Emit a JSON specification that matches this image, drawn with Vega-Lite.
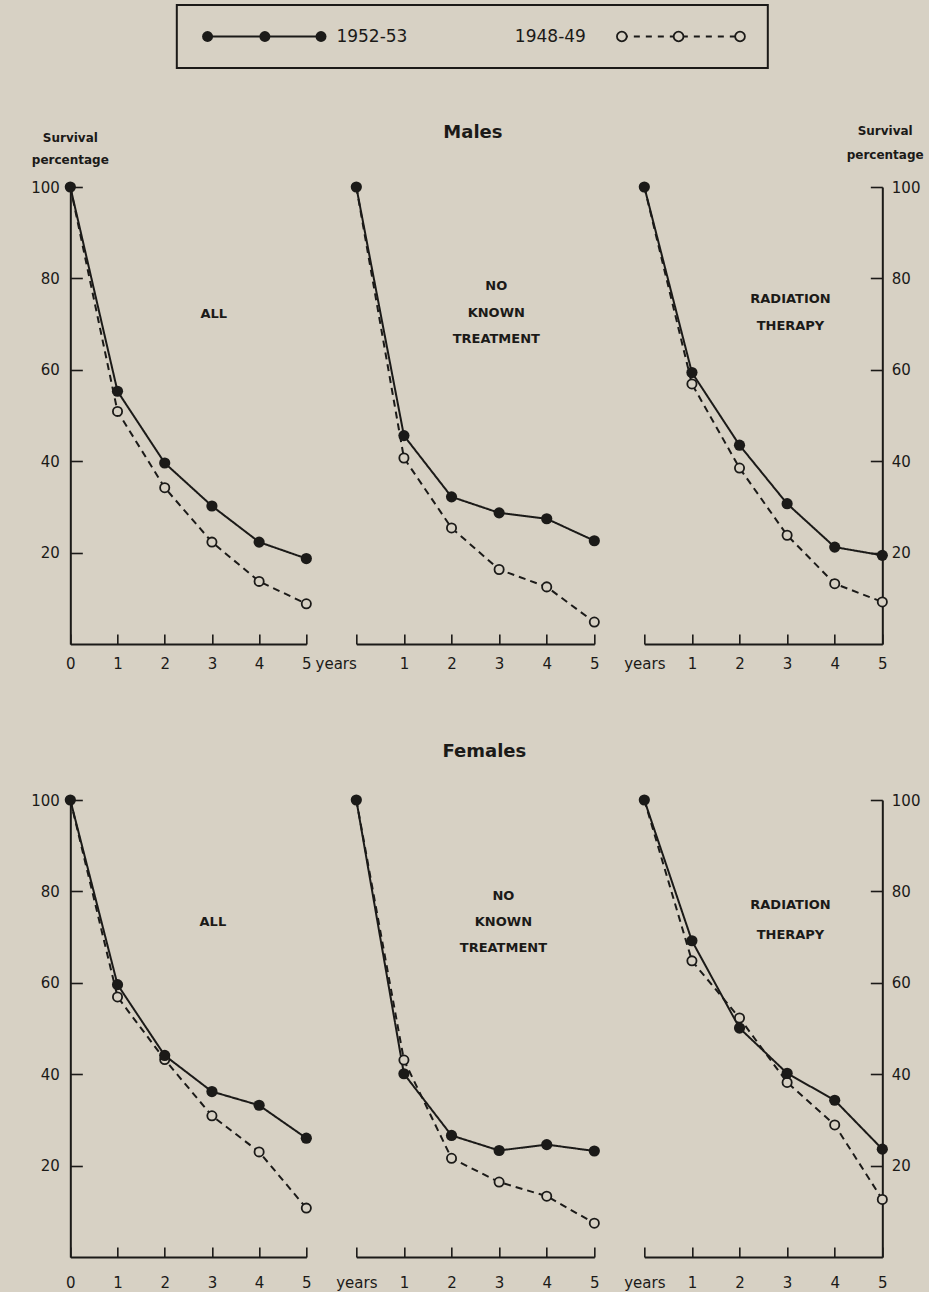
{
  "$schema": "https://vega.github.io/schema/vega-lite/v6.json",
  "background": "#d7d1c4",
  "padding": {"left": 30, "top": 4, "right": 5, "bottom": 2},
  "config": {
    "view": {"stroke": null},
    "font": "DejaVu Sans",
    "axis": {
      "domainColor": "#1b1a18", "domainWidth": 2, "tickColor": "#1b1a18", "tickWidth": 1.6,
      "labelColor": "#1b1a18", "labelFont": "DejaVu Sans", "labelFontSize": 15,
      "labelFlush": false, "labelOverlap": false, "labelBound": false, "grid": false, "title": null
    }
  },
  "datasets": {
    "surv": [
      {"sex":"Males","group":"ALL","period":"1952-53","year":0,"pct":100},
      {"sex":"Males","group":"ALL","period":"1952-53","year":1,"pct":55.3},
      {"sex":"Males","group":"ALL","period":"1952-53","year":2,"pct":39.6},
      {"sex":"Males","group":"ALL","period":"1952-53","year":3,"pct":30.2},
      {"sex":"Males","group":"ALL","period":"1952-53","year":4,"pct":22.3},
      {"sex":"Males","group":"ALL","period":"1952-53","year":5,"pct":18.7},
      {"sex":"Males","group":"ALL","period":"1948-49","year":0,"pct":100},
      {"sex":"Males","group":"ALL","period":"1948-49","year":1,"pct":50.9},
      {"sex":"Males","group":"ALL","period":"1948-49","year":2,"pct":34.2},
      {"sex":"Males","group":"ALL","period":"1948-49","year":3,"pct":22.3},
      {"sex":"Males","group":"ALL","period":"1948-49","year":4,"pct":13.7},
      {"sex":"Males","group":"ALL","period":"1948-49","year":5,"pct":8.8},
      {"sex":"Males","group":"NO KNOWN TREATMENT","period":"1952-53","year":0,"pct":100},
      {"sex":"Males","group":"NO KNOWN TREATMENT","period":"1952-53","year":1,"pct":45.6},
      {"sex":"Males","group":"NO KNOWN TREATMENT","period":"1952-53","year":2,"pct":32.2},
      {"sex":"Males","group":"NO KNOWN TREATMENT","period":"1952-53","year":3,"pct":28.7},
      {"sex":"Males","group":"NO KNOWN TREATMENT","period":"1952-53","year":4,"pct":27.4},
      {"sex":"Males","group":"NO KNOWN TREATMENT","period":"1952-53","year":5,"pct":22.6},
      {"sex":"Males","group":"NO KNOWN TREATMENT","period":"1948-49","year":0,"pct":100},
      {"sex":"Males","group":"NO KNOWN TREATMENT","period":"1948-49","year":1,"pct":40.7},
      {"sex":"Males","group":"NO KNOWN TREATMENT","period":"1948-49","year":2,"pct":25.4},
      {"sex":"Males","group":"NO KNOWN TREATMENT","period":"1948-49","year":3,"pct":16.3},
      {"sex":"Males","group":"NO KNOWN TREATMENT","period":"1948-49","year":4,"pct":12.5},
      {"sex":"Males","group":"NO KNOWN TREATMENT","period":"1948-49","year":5,"pct":4.8},
      {"sex":"Males","group":"RADIATION THERAPY","period":"1952-53","year":0,"pct":100},
      {"sex":"Males","group":"RADIATION THERAPY","period":"1952-53","year":1,"pct":59.4},
      {"sex":"Males","group":"RADIATION THERAPY","period":"1952-53","year":2,"pct":43.5},
      {"sex":"Males","group":"RADIATION THERAPY","period":"1952-53","year":3,"pct":30.7},
      {"sex":"Males","group":"RADIATION THERAPY","period":"1952-53","year":4,"pct":21.2},
      {"sex":"Males","group":"RADIATION THERAPY","period":"1952-53","year":5,"pct":19.4},
      {"sex":"Males","group":"RADIATION THERAPY","period":"1948-49","year":0,"pct":100},
      {"sex":"Males","group":"RADIATION THERAPY","period":"1948-49","year":1,"pct":56.9},
      {"sex":"Males","group":"RADIATION THERAPY","period":"1948-49","year":2,"pct":38.5},
      {"sex":"Males","group":"RADIATION THERAPY","period":"1948-49","year":3,"pct":23.8},
      {"sex":"Males","group":"RADIATION THERAPY","period":"1948-49","year":4,"pct":13.2},
      {"sex":"Males","group":"RADIATION THERAPY","period":"1948-49","year":5,"pct":9.2},
      {"sex":"Females","group":"ALL","period":"1952-53","year":0,"pct":100},
      {"sex":"Females","group":"ALL","period":"1952-53","year":1,"pct":59.6},
      {"sex":"Females","group":"ALL","period":"1952-53","year":2,"pct":44.1},
      {"sex":"Females","group":"ALL","period":"1952-53","year":3,"pct":36.2},
      {"sex":"Females","group":"ALL","period":"1952-53","year":4,"pct":33.2},
      {"sex":"Females","group":"ALL","period":"1952-53","year":5,"pct":26.0},
      {"sex":"Females","group":"ALL","period":"1948-49","year":0,"pct":100},
      {"sex":"Females","group":"ALL","period":"1948-49","year":1,"pct":56.9},
      {"sex":"Females","group":"ALL","period":"1948-49","year":2,"pct":43.2},
      {"sex":"Females","group":"ALL","period":"1948-49","year":3,"pct":30.9},
      {"sex":"Females","group":"ALL","period":"1948-49","year":4,"pct":23.0},
      {"sex":"Females","group":"ALL","period":"1948-49","year":5,"pct":10.7},
      {"sex":"Females","group":"NO KNOWN TREATMENT","period":"1952-53","year":0,"pct":100},
      {"sex":"Females","group":"NO KNOWN TREATMENT","period":"1952-53","year":1,"pct":40.1},
      {"sex":"Females","group":"NO KNOWN TREATMENT","period":"1952-53","year":2,"pct":26.6},
      {"sex":"Females","group":"NO KNOWN TREATMENT","period":"1952-53","year":3,"pct":23.3},
      {"sex":"Females","group":"NO KNOWN TREATMENT","period":"1952-53","year":4,"pct":24.6},
      {"sex":"Females","group":"NO KNOWN TREATMENT","period":"1952-53","year":5,"pct":23.2},
      {"sex":"Females","group":"NO KNOWN TREATMENT","period":"1948-49","year":0,"pct":100},
      {"sex":"Females","group":"NO KNOWN TREATMENT","period":"1948-49","year":1,"pct":43.1},
      {"sex":"Females","group":"NO KNOWN TREATMENT","period":"1948-49","year":2,"pct":21.6},
      {"sex":"Females","group":"NO KNOWN TREATMENT","period":"1948-49","year":3,"pct":16.4},
      {"sex":"Females","group":"NO KNOWN TREATMENT","period":"1948-49","year":4,"pct":13.3},
      {"sex":"Females","group":"NO KNOWN TREATMENT","period":"1948-49","year":5,"pct":7.4},
      {"sex":"Females","group":"RADIATION THERAPY","period":"1952-53","year":0,"pct":100},
      {"sex":"Females","group":"RADIATION THERAPY","period":"1952-53","year":1,"pct":69.2},
      {"sex":"Females","group":"RADIATION THERAPY","period":"1952-53","year":2,"pct":50.1},
      {"sex":"Females","group":"RADIATION THERAPY","period":"1952-53","year":3,"pct":40.2},
      {"sex":"Females","group":"RADIATION THERAPY","period":"1952-53","year":4,"pct":34.3},
      {"sex":"Females","group":"RADIATION THERAPY","period":"1952-53","year":5,"pct":23.6},
      {"sex":"Females","group":"RADIATION THERAPY","period":"1948-49","year":0,"pct":100},
      {"sex":"Females","group":"RADIATION THERAPY","period":"1948-49","year":1,"pct":64.8},
      {"sex":"Females","group":"RADIATION THERAPY","period":"1948-49","year":2,"pct":52.3},
      {"sex":"Females","group":"RADIATION THERAPY","period":"1948-49","year":3,"pct":38.2},
      {"sex":"Females","group":"RADIATION THERAPY","period":"1948-49","year":4,"pct":28.9},
      {"sex":"Females","group":"RADIATION THERAPY","period":"1948-49","year":5,"pct":12.6}
    ],
    "legendKey": [
      {"period":"1952-53","lx":5.2},{"period":"1952-53","lx":14.9},{"period":"1952-53","lx":24.4},
      {"period":"1948-49","lx":75.3},{"period":"1948-49","lx":84.9},{"period":"1948-49","lx":95.3}
    ],
    "legendText": [
      {"label":"1952-53","lx":27.0},{"label":"1948-49","lx":57.2}
    ],
    "legendPad": [
      {"lx": 108.1}
    ]
  },
  "vconcat": [
    {
      "width": 591, "height": 63,
      "view": {"stroke": "#1b1a18", "strokeWidth": 2},
      "encoding": {"x": {"field": "lx", "type": "quantitative", "scale": {"domain": [0,100], "nice": false}, "axis": null}},
      "layer": [
        {"data": {"name": "legendKey"}, "transform": [{"filter": "datum.period === '1952-53'"}], "mark": {"type": "line", "color": "#1b1a18", "strokeWidth": 2}},
        {"data": {"name": "legendKey"}, "transform": [{"filter": "datum.period === '1952-53'"}], "mark": {"type": "circle", "color": "#1b1a18", "size": 120, "opacity": 1}},
        {"data": {"name": "legendKey"}, "transform": [{"filter": "datum.period === '1948-49'"}], "mark": {"type": "line", "color": "#1b1a18", "strokeWidth": 1.8, "strokeDash": [6,6]}},
        {"data": {"name": "legendKey"}, "transform": [{"filter": "datum.period === '1948-49'"}], "mark": {"type": "point", "shape": "circle", "filled": true, "fill": "#d7d1c4", "stroke": "#1b1a18", "strokeWidth": 1.8, "size": 95, "opacity": 1}},
        {"data": {"name": "legendText"}, "mark": {"type": "text", "align": "left", "baseline": "middle", "fontSize": 17, "color": "#1b1a18"}, "encoding": {"text": {"field": "label"}}},
        {"data": {"name": "legendPad"}, "mark": {"type": "point", "opacity": 0, "size": 1}}
      ]
    },
    {
      "concat": [
        {
          "width": 236, "height": 457,
          "data": {"name": "surv"},
          "transform": [{"filter": "datum.sex === 'Males' && datum.group === 'ALL'"}],
          "encoding": {
            "x": {"field": "year", "type": "quantitative", "scale": {"domain": [0,5], "nice": false, "zero": false},
                  "axis": {"values": [0,1,2,3,4,5], "tickSize": -10, "labelPadding": 22}},
            "y": {"field": "pct", "type": "quantitative", "scale": {"domain": [0,100], "nice": false},
                  "axis": {"values": [20,40,60,80,100], "tickSize": -12, "labelPadding": 23}}
          },
          "layer": [
            {"mark": {"type": "line", "color": "#1b1a18", "strokeWidth": 2}, "encoding": {"strokeDash": {"field": "period", "type": "nominal", "scale": {"domain": ["1952-53","1948-49"], "range": [[1,0],[7,5]]}, "legend": null}}},
            {"transform": [{"filter": "datum.period === '1948-49' && datum.year > 0"}], "mark": {"type": "point", "shape": "circle", "filled": true, "fill": "#d7d1c4", "stroke": "#1b1a18", "strokeWidth": 1.8, "size": 85, "opacity": 1}},
            {"transform": [{"filter": "datum.period === '1952-53'"}], "mark": {"type": "circle", "color": "#1b1a18", "size": 125, "opacity": 1}},
            {"transform": [{"filter": "datum.year === 0 && datum.period === '1952-53'"}], "mark": {"type": "text", "fontSize": 13, "fontWeight": "bold", "color": "#1b1a18", "align": "center", "baseline": "middle", "lineBreak": " ", "lineHeight": 26}, "encoding": {"text": {"field": "group"}, "x": {"datum": 3.04, "type": "quantitative"}, "y": {"datum": 72.2, "type": "quantitative"}}},
            {"transform": [{"filter": "datum.year === 0 && datum.period === '1952-53'"}], "mark": {"type": "text", "text": ["Survival","percentage"], "fontSize": 12, "fontWeight": "bold", "color": "#1b1a18", "align": "center", "baseline": "top", "lineHeight": 22}, "encoding": {"x": {"datum": 0, "type": "quantitative"}, "y": {"datum": 111.8, "type": "quantitative"}}}
          ]
        },
        {
          "width": 238, "height": 457,
          "data": {"name": "surv"},
          "transform": [{"filter": "datum.sex === 'Males' && datum.group === 'NO KNOWN TREATMENT'"}],
          "encoding": {
            "x": {"field": "year", "type": "quantitative", "scale": {"domain": [0,5], "nice": false, "zero": false},
                  "axis": {"values": [0,1,2,3,4,5], "tickSize": -10, "labelPadding": 22, "labelExpr": "datum.value === 0 ? 'years' : datum.label",
                           "labelAlign": {"condition": {"test": "datum.value === 0", "value": "right"}, "value": "center"}}},
            "y": {"field": "pct", "type": "quantitative", "scale": {"domain": [0,100], "nice": false}, "axis": null}
          },
          "layer": [
            {"mark": {"type": "line", "color": "#1b1a18", "strokeWidth": 2}, "encoding": {"strokeDash": {"field": "period", "type": "nominal", "scale": {"domain": ["1952-53","1948-49"], "range": [[1,0],[7,5]]}, "legend": null}}},
            {"transform": [{"filter": "datum.period === '1948-49' && datum.year > 0"}], "mark": {"type": "point", "shape": "circle", "filled": true, "fill": "#d7d1c4", "stroke": "#1b1a18", "strokeWidth": 1.8, "size": 85, "opacity": 1}},
            {"transform": [{"filter": "datum.period === '1952-53'"}], "mark": {"type": "circle", "color": "#1b1a18", "size": 125, "opacity": 1}},
            {"transform": [{"filter": "datum.year === 0 && datum.period === '1952-53'"}], "mark": {"type": "text", "fontSize": 13, "fontWeight": "bold", "color": "#1b1a18", "align": "center", "baseline": "top", "lineBreak": " ", "lineHeight": 26.5}, "encoding": {"text": {"field": "group"}, "x": {"datum": 2.94, "type": "quantitative"}, "y": {"datum": 79.6, "type": "quantitative"}}},
            {"transform": [{"filter": "datum.year === 0 && datum.period === '1952-53'"}], "mark": {"type": "text", "fontSize": 18, "fontWeight": "bold", "color": "#1b1a18", "align": "center", "baseline": "middle"}, "encoding": {"text": {"field": "sex"}, "x": {"datum": 2.45, "type": "quantitative"}, "y": {"datum": 111.8, "type": "quantitative"}}}
          ]
        },
        {
          "width": 238, "height": 457,
          "data": {"name": "surv"},
          "transform": [{"filter": "datum.sex === 'Males' && datum.group === 'RADIATION THERAPY'"}],
          "encoding": {
            "x": {"field": "year", "type": "quantitative", "scale": {"domain": [0,5], "nice": false, "zero": false},
                  "axis": {"values": [0,1,2,3,4,5], "tickSize": -10, "labelPadding": 22, "labelExpr": "datum.value === 0 ? 'years' : datum.label"}},
            "y": {"field": "pct", "type": "quantitative", "scale": {"domain": [0,100], "nice": false},
                  "axis": {"orient": "right", "values": [20,40,60,80,100], "tickSize": -12, "labelPadding": 21}}
          },
          "layer": [
            {"mark": {"type": "line", "color": "#1b1a18", "strokeWidth": 2}, "encoding": {"strokeDash": {"field": "period", "type": "nominal", "scale": {"domain": ["1952-53","1948-49"], "range": [[1,0],[7,5]]}, "legend": null}}},
            {"transform": [{"filter": "datum.period === '1948-49' && datum.year > 0"}], "mark": {"type": "point", "shape": "circle", "filled": true, "fill": "#d7d1c4", "stroke": "#1b1a18", "strokeWidth": 1.8, "size": 85, "opacity": 1}},
            {"transform": [{"filter": "datum.period === '1952-53'"}], "mark": {"type": "circle", "color": "#1b1a18", "size": 125, "opacity": 1}},
            {"transform": [{"filter": "datum.year === 0 && datum.period === '1952-53'"}], "mark": {"type": "text", "fontSize": 13, "fontWeight": "bold", "color": "#1b1a18", "align": "center", "baseline": "top", "lineBreak": " ", "lineHeight": 27}, "encoding": {"text": {"field": "group"}, "x": {"datum": 3.07, "type": "quantitative"}, "y": {"datum": 76.9, "type": "quantitative"}}},
            {"transform": [{"filter": "datum.year === 0 && datum.period === '1952-53'"}], "mark": {"type": "text", "text": ["Survival","percentage"], "fontSize": 12, "fontWeight": "bold", "color": "#1b1a18", "align": "center", "baseline": "top", "lineHeight": 24}, "encoding": {"x": {"datum": 5.06, "type": "quantitative"}, "y": {"datum": 113.3, "type": "quantitative"}}}
          ]
        },
        {
          "width": 236, "height": 457,
          "data": {"name": "surv"},
          "transform": [{"filter": "datum.sex === 'Females' && datum.group === 'ALL'"}],
          "encoding": {
            "x": {"field": "year", "type": "quantitative", "scale": {"domain": [0,5], "nice": false, "zero": false},
                  "axis": {"values": [0,1,2,3,4,5], "tickSize": -10, "labelPadding": 28}},
            "y": {"field": "pct", "type": "quantitative", "scale": {"domain": [0,100], "nice": false},
                  "axis": {"values": [20,40,60,80,100], "tickSize": -12, "labelPadding": 23}}
          },
          "layer": [
            {"mark": {"type": "line", "color": "#1b1a18", "strokeWidth": 2}, "encoding": {"strokeDash": {"field": "period", "type": "nominal", "scale": {"domain": ["1952-53","1948-49"], "range": [[1,0],[7,5]]}, "legend": null}}},
            {"transform": [{"filter": "datum.period === '1948-49' && datum.year > 0"}], "mark": {"type": "point", "shape": "circle", "filled": true, "fill": "#d7d1c4", "stroke": "#1b1a18", "strokeWidth": 1.8, "size": 85, "opacity": 1}},
            {"transform": [{"filter": "datum.period === '1952-53'"}], "mark": {"type": "circle", "color": "#1b1a18", "size": 125, "opacity": 1}},
            {"transform": [{"filter": "datum.year === 0 && datum.period === '1952-53'"}], "mark": {"type": "text", "fontSize": 13, "fontWeight": "bold", "color": "#1b1a18", "align": "center", "baseline": "middle", "lineBreak": " "}, "encoding": {"text": {"field": "group"}, "x": {"datum": 3.02, "type": "quantitative"}, "y": {"datum": 73.3, "type": "quantitative"}}}
          ]
        },
        {
          "width": 238, "height": 457,
          "data": {"name": "surv"},
          "transform": [{"filter": "datum.sex === 'Females' && datum.group === 'NO KNOWN TREATMENT'"}],
          "encoding": {
            "x": {"field": "year", "type": "quantitative", "scale": {"domain": [0,5], "nice": false, "zero": false},
                  "axis": {"values": [0,1,2,3,4,5], "tickSize": -10, "labelPadding": 28, "labelExpr": "datum.value === 0 ? 'years' : datum.label"}},
            "y": {"field": "pct", "type": "quantitative", "scale": {"domain": [0,100], "nice": false}, "axis": null}
          },
          "layer": [
            {"mark": {"type": "line", "color": "#1b1a18", "strokeWidth": 2}, "encoding": {"strokeDash": {"field": "period", "type": "nominal", "scale": {"domain": ["1952-53","1948-49"], "range": [[1,0],[7,5]]}, "legend": null}}},
            {"transform": [{"filter": "datum.period === '1948-49' && datum.year > 0"}], "mark": {"type": "point", "shape": "circle", "filled": true, "fill": "#d7d1c4", "stroke": "#1b1a18", "strokeWidth": 1.8, "size": 85, "opacity": 1}},
            {"transform": [{"filter": "datum.period === '1952-53'"}], "mark": {"type": "circle", "color": "#1b1a18", "size": 125, "opacity": 1}},
            {"transform": [{"filter": "datum.year === 0 && datum.period === '1952-53'"}], "mark": {"type": "text", "fontSize": 13, "fontWeight": "bold", "color": "#1b1a18", "align": "center", "baseline": "top", "lineBreak": " ", "lineHeight": 26}, "encoding": {"text": {"field": "group"}, "x": {"datum": 3.09, "type": "quantitative"}, "y": {"datum": 80.4, "type": "quantitative"}}},
            {"transform": [{"filter": "datum.year === 0 && datum.period === '1952-53'"}], "mark": {"type": "text", "fontSize": 18, "fontWeight": "bold", "color": "#1b1a18", "align": "center", "baseline": "middle"}, "encoding": {"text": {"field": "sex"}, "x": {"datum": 2.69, "type": "quantitative"}, "y": {"datum": 110.5, "type": "quantitative"}}}
          ]
        },
        {
          "width": 238, "height": 457,
          "data": {"name": "surv"},
          "transform": [{"filter": "datum.sex === 'Females' && datum.group === 'RADIATION THERAPY'"}],
          "encoding": {
            "x": {"field": "year", "type": "quantitative", "scale": {"domain": [0,5], "nice": false, "zero": false},
                  "axis": {"values": [0,1,2,3,4,5], "tickSize": -10, "labelPadding": 28, "labelExpr": "datum.value === 0 ? 'years' : datum.label"}},
            "y": {"field": "pct", "type": "quantitative", "scale": {"domain": [0,100], "nice": false},
                  "axis": {"orient": "right", "values": [20,40,60,80,100], "tickSize": -12, "labelPadding": 21}}
          },
          "layer": [
            {"mark": {"type": "line", "color": "#1b1a18", "strokeWidth": 2}, "encoding": {"strokeDash": {"field": "period", "type": "nominal", "scale": {"domain": ["1952-53","1948-49"], "range": [[1,0],[7,5]]}, "legend": null}}},
            {"transform": [{"filter": "datum.period === '1948-49' && datum.year > 0"}], "mark": {"type": "point", "shape": "circle", "filled": true, "fill": "#d7d1c4", "stroke": "#1b1a18", "strokeWidth": 1.8, "size": 85, "opacity": 1}},
            {"transform": [{"filter": "datum.period === '1952-53'"}], "mark": {"type": "circle", "color": "#1b1a18", "size": 125, "opacity": 1}},
            {"transform": [{"filter": "datum.year === 0 && datum.period === '1952-53'"}], "mark": {"type": "text", "fontSize": 13, "fontWeight": "bold", "color": "#1b1a18", "align": "center", "baseline": "top", "lineBreak": " ", "lineHeight": 30}, "encoding": {"text": {"field": "group"}, "x": {"datum": 3.07, "type": "quantitative"}, "y": {"datum": 78.3, "type": "quantitative"}}}
          ]
        }
      ],
      "columns": 3,
      "bounds": "flush",
      "spacing": {"row": 156, "column": 50}
    }
  ],
  "spacing": 55,
  "center": true
}
